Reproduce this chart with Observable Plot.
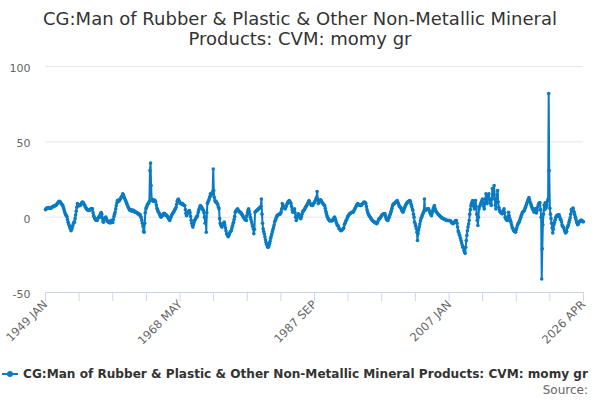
<!DOCTYPE html>
<html>
<head>
<meta charset="utf-8">
<script src="https://cdn.jsdelivr.net/npm/d3@7"></script>
<script src="https://cdn.jsdelivr.net/npm/@observablehq/plot@0.6"></script>
<style>
  body { margin: 0; width: 600px; height: 400px; overflow: hidden; background: #fff; position: relative; font-family: "DejaVu Sans", sans-serif; }
  #title { height: 56px; box-sizing: border-box; padding-top: 9px; text-align: center; font-size: 18px; line-height: 20px; color: #333; }
  #chart { height: 300px; }
  #legend { position: absolute; left: 0; top: 366px; height: 16px; line-height: 16px; white-space: nowrap; font-size: 12.1px; font-weight: bold; color: #333; }
  #legend svg { position: absolute; left: 2px; top: 0; }
  #legend span { position: absolute; left: 23px; top: 0; }
  #source { position: absolute; right: 12px; top: 383px; line-height: 14px; font-size: 12px; color: #666; }
</style>
</head>
<body>
<div id="title">CG:Man of Rubber &amp; Plastic &amp; Other Non-Metallic Mineral<br>Products: CVM: momy gr</div>
<div id="chart"></div>
<div id="legend"><svg width="16" height="16"><line x1="0" y1="8" x2="16" y2="8" stroke="#0a7bc2" stroke-width="2"></line><circle cx="8" cy="8" r="3" fill="#0a7bc2"></circle></svg><span>CG:Man of Rubber &amp; Plastic &amp; Other Non-Metallic Mineral Products: CVM: momy gr</span></div>
<div id="source">Source:</div>
<script>
const seriesName = "CG:Man of Rubber & Plastic & Other Non-Metallic Mineral Products: CVM: momy gr";
const startYear = 1949;
const endDate = [2026, 3]; // 2026 APR
const yTicks = [-50, 0, 50, 100];
const xTickLabels = ["1949 JAN", "1968 MAY", "1987 SEP", "2007 JAN", "2026 APR"];
const xTickLabelDates = [[1949, 0], [1968, 4], [1987, 8], [2007, 0], [2026, 3]];
const minorTickCount = 16;

// monthly values, one row per year starting 1949 (JAN..DEC)
const monthlyValues = [
  [5, 5.5, 6, 5.8, 6.2, 5.9, 6.3, 6, 6.2, 5.8, 6.4, 6.6], // 1949
  [6.8, 7, 7.3, 7.1, 7.6, 7.9, 7.7, 8.2, 8.8, 9.3, 9.9, 10.3],
  [10.6, 10.2, 9.8, 9.1, 8.5, 8, 7.7, 6.3, 5, 3.6, 2.4, 1.5],
  [1, 0.2, -1.5, -3.3, -4.5, -5.6, -6.8, -7.8, -9, -8.2, -7, -5.5],
  [-4.2, -3.3, -3.3, -1, 1.5, 4, 6.5, 9, 8.5, 8, 7.6, 7.7],
  [7.7, 8.5, 9.2, 9.8, 10, 9.6, 8.8, 8.2, 7.5, 6.6, 6, 5.4],
  [5, 4.7, 4.5, 4.4, 4.6, 5, 5.4, 5.8, 5.2, 5.5, 3, 1],
  [0, -0.8, -1.5, -2, -1.6, -2.2, -1, -0.5, 0.4, 0, 1.5, 2.5],
  [3, 2, -0.5, -2.5, -3.3, -2, -1, -0.3, 0, -1, -2, -2.8],
  [-3, -3.3, -3.6, -2.5, -3.8, -3, -2, -3.3, -3.5, -1.5, 0.5, 2],
  [3.3, 5.5, 7.5, 9.5, 11, 10.2, 11.3, 10.8, 11.6, 12, 12.8, 13.6], // 1959
  [14.2, 15.5, 15, 14, 12.8, 12, 11, 10, 9, 8, 7, 6.2],
  [5.5, 4.8, 4.4, 5, 4.2, 4.8, 4.4, 4, 4.6, 3.8, 3.3, 3.6],
  [3.3, 3, 2.6, 2.8, 2, 2.2, 1.5, 1.8, 0.5, -0.5, -2.2, -4],
  [-6, -9.5, -10, -4, 3, 5.5, 6.5, 7.5, 8.5, 9, 9.5, 10.5],
  [31, 36, 21, 12, 11, 11.5, 10.5, 11, 11.3, 10.8, 10, 8],
  [6, 5, 4, 3.3, 2.5, 1.5, 0.8, 0, 0.5, 1, 1.5, 2.2],
  [2.2, 2.5, 1.8, 1.2, 1.5, 1, 0.5, 0, -0.8, -1.5, -2.2, -1],
  [0, 1, 1.8, 2.2, 3, 3.5, 4.2, 5, 5.8, 6.6, 8.5, 10.5],
  [11.5, 12, 11, 10, 9.5, 9, 9.2, 8.6, 9, 8.3, 8, 7.7],
  [7.7, 5, 2.5, 1, 2, 3, 3.5, 4, 4.4, 3, 0.5, -2], // 1969
  [-4, -5.5, -6.6, -5, -3.5, -2.2, -1.5, -0.8, 0, 0.5, 1, 3],
  [4.5, 5.8, 6.8, 7.7, 7, 6.5, 5.8, 5.2, 4.4, 3, 0, -4],
  [0, -10, 3, 9, 10, 11, 12, 13.5, 15.5, 14, 15, 15.5],
  [17, 32, 17.7, 13, 11, 10, 10.5, 9.5, 9, 8, 6.5, 5.5],
  [-1, -4, -5, -6, -6.6, -5.5, -4.5, -4, -3.3, -5, -7, -9],
  [-11, -11.5, -12.5, -13, -12, -11, -10, -9.5, -9, -7.5, -6, -4.5],
  [-3.3, -1.5, 0.5, 3.3, 4, 4.5, 5, 5.5, 4.8, 4.2, 3.5, 3.3],
  [3.3, 2.8, 2, 1.5, 1, 0, -0.5, -1, -1.5, -2, -2.2, 1],
  [3, 4.5, 5.5, 4, 2, 0, -1.5, -3, -4.5, -6, -7.7, -11],
  [-8, 3.3, 3.8, 4, 4.4, 4.7, 5, 5.5, 5.8, 6.2, 6.6, 7], // 1979
  [12, 2, -4, -7.7, -9.5, -11, -13, -15, -16.6, -18, -19, -20],
  [-20, -19, -17.5, -16, -14, -12.5, -11, -9.5, -8, -6.6, -5, -3],
  [-2, -1, 0, 1, 1.3, 1.5, 1.8, 2, 2.2, 2.2, 3.5, 5.5],
  [9, 8, 7, 6.5, 6, 5.5, 6.5, 7.5, 8.5, 9.5, 10, 10.5],
  [11, 10.5, 9.5, 9, 7, 5, 3.3, 4, 5, 5.5, 3, 0],
  [-2.2, -1, 0.5, 1.5, 2.2, 1.2, 0.5, -0.5, -1, 0.5, 2, 3.5],
  [4, 4.4, 5, 5.5, 6.5, 7, 7.7, 8.5, 9.2, 10, 11, 10],
  [9, 8.5, 8, 7.8, 7.7, 8.2, 9, 9.6, 10.2, 11, 12, 13],
  [17, 12, 9, 10, 10.5, 11, 11.5, 11, 10, 9.5, 9, 8.5],
  [8, 7.7, 6, 4, 2.5, 1, 0, -1, -1.5, -2.2, -2.5, -2.2], // 1989
  [-2, -2.5, -2.2, -2.2, -1.5, -0.5, 0, -1, -2, -3.5, -4.5, -5.5],
  [-5.5, -6.5, -7.5, -8, -8.5, -9, -8.8, -8.5, -8, -7.7, -7, -5],
  [-4, -3, -2.2, -1.5, -0.5, 0.5, 1, 1.8, 2.2, 2.5, 2.8, 3],
  [3.2, 3.3, 3.3, 4, 4.8, 5.5, 6.2, 7, 7.8, 8.5, 9, 8.5],
  [8.2, 8, 7.8, 7.7, 7.7, 8.2, 8.7, 9.2, 9.6, 10, 9.8, 9.5],
  [9, 7, 5, 3.5, 2.2, 1.5, 0.8, 0.3, -0.3, -1, -1.5, -2.2],
  [-2.5, -2.8, -3, -3.3, -3.5, -3.8, -4.2, -4.4, -3.5, -2.5, -1.5, -1],
  [-1, -0.3, 0.3, 1, 1.5, 1.8, 2, 2.2, 2, 2.2, 0.5, -1],
  [-1.5, -2, -2.2, -1, 0, 1, 2, 3.3, 4.5, 6, 7.5, 8.5],
  [8.8, 9, 9.4, 9.8, 10.2, 10.6, 11, 10, 9, 8, 7.2, 6.6], // 1999
  [6.6, 5.5, 4.5, 4, 3.3, 4.5, 5.5, 6.5, 7.5, 8.2, 9, 9.6],
  [10, 10.3, 10.6, 10.8, 11, 10, 8.5, 7, 5.5, 4.4, 2, 0],
  [-3.3, -4.5, -6, -7.7, -10, -15.5, -11, -8.5, -6.6, -4.5, -2.5, -1],
  [0, 1, 2, 3, 4, 12, 4.4, 4.8, 5, 5.2, 5.4, 5.5],
  [5.5, 4.5, 3.5, 2.5, 1.8, 1, 2.5, 4, 5.5, 6.5, 7.7, 6],
  [4.5, 3.8, 3.3, 2.8, 2.2, 1.8, 1.4, 1, 0.6, 0.2, -0.3, -0.6],
  [-0.8, -0.9, -1, -1.3, -1.5, -1.7, -1.9, -2.1, -2.2, -2.2, -2.2, -2.2],
  [-2.2, -2.2, -2.6, -3, -3.5, -4, -4.4, -4, -3.5, -3, -2.5, -2.2],
  [-2.2, -4, -6.5, -9, -10, -11.5, -12.5, -14, -15.5, -17, -18.5, -20],
  [-20, -22, -23, -24, -20, -15.5, -12, -9, -6.5, -4.5, -2.2, 2], // 2009
  [5, 7.7, 9, 10, 11, 9, 7, 5.5, 8, 11, 7, 2],
  [-2, -5.5, 0, 5.5, 7, 8, 9, 10, 11, 12, 9, 7],
  [5.5, 9, 12, 15.5, 12, 9, 12, 14, 15.5, 12, 10, 9],
  [7.7, 12, 19, 14, 17, 21, 12, 8, 5.5, 11, 15, 17.7],
  [10, 6.6, 5, 4, 3.3, 3, 2.5, 2.2, 3.5, 4.5, 5.5, 3],
  [0, -1, -1.5, -2, -2.2, 0.5, 3.3, 1, -1, -2.2, -3.3, -5],
  [-6.6, -7.4, -8.2, -9, -9.3, -9.7, -10, -8.5, -7, -5.5, -4.5, -3.8],
  [-3.3, -2.2, -1, 0, 1.2, 2.3, 3.3, 3.6, 4, 4.4, 5.5, 6.5],
  [7.7, 8.8, 9.9, 11, 12, 13, 11.5, 10, 9, 7.8, 6.6, 5.5],
  [5.5, 4.5, 3.3, 4.8, 5.5, 3.5, 2.8, 4.5, 6.6, 8, 9, 9.5], // 2019
  [9.5, 5, 0, -41, -21, -5, 2, 8, 5, 9.5, 6, 7],
  [8, 10.8, 12, 82, 31, 6, 2, -1, -4, -7, -10.5, -8],
  [-5, -3.5, -2, -0.5, 0.5, 1, 0.5, 1.5, 1, 1.5, 0, -1.5],
  [-1.5, -3, -5, -6, -6.5, -7, -8.5, -9.5, -10.5, -10, -9.5, -7],
  [-6, -5, -3.5, -2, -0.5, 2, 5, 4, 5.5, 6, 4, 3],
  [1.5, 0, -1.5, -3, -4, -5, -4.5, -3.5, -3, -2.5, -2.3, -2],
  [-2, -2.5, -3, -3] // 2026 JAN..APR
];

const data = monthlyValues.flatMap((row, yi) =>
  row.map((v, mi) => ({ date: new Date(startYear + yi, mi, 1), value: v }))
);

const t0 = new Date(startYear, 0, 1);
const t1 = new Date(endDate[0], endDate[1], 1);
const minorTicks = d3.range(minorTickCount + 1).map(i => new Date(+t0 + i * (t1 - t0) / minorTickCount));
const labelDates = xTickLabelDates.map(([y, m]) => new Date(y, m, 1));
const labelByTime = new Map(labelDates.map((d, i) => [+d, xTickLabels[i]]));

const color = "#0a7bc2";

const chart = Plot.plot({
  width: 600,
  height: 300,
  marginLeft: 45,
  marginRight: 17,
  marginTop: 10,
  marginBottom: 64,
  style: { fontFamily: "DejaVu Sans", background: "white", overflow: "visible" },
  x: { type: "time", domain: [t0, t1], label: null },
  y: { domain: [-50, 100], label: null },
  marks: [
    Plot.gridY(yTicks.filter(d => d !== -50), { stroke: "#e6e6e6", strokeOpacity: 1 }),
    Plot.ruleY([-50], { stroke: "#ccd6eb", strokeWidth: 1 }),
    Plot.axisY({ ticks: yTicks, label: null, tickSize: 0, tickPadding: 15, tickFormat: d => String(d), fontSize: 11, fill: "#666", dy: 2 }),
    Plot.axisX({ ticks: minorTicks, label: null, tickSize: 9, tickFormat: () => "", stroke: "#ccd6eb", strokeOpacity: 1 }),
    Plot.axisX({ ticks: labelDates, label: null, tickSize: 0, tickPadding: 10, tickRotate: -45, tickFormat: d => labelByTime.get(+d), fontSize: 11.5, fill: "#666" }),
    Plot.line(data, { x: "date", y: "value", stroke: color, strokeWidth: 2 }),
    Plot.dot(data, { x: "date", y: "value", fill: color, r: 1.8 })
  ]
});
document.getElementById("chart").appendChild(chart);
</script>
</body>
</html>
